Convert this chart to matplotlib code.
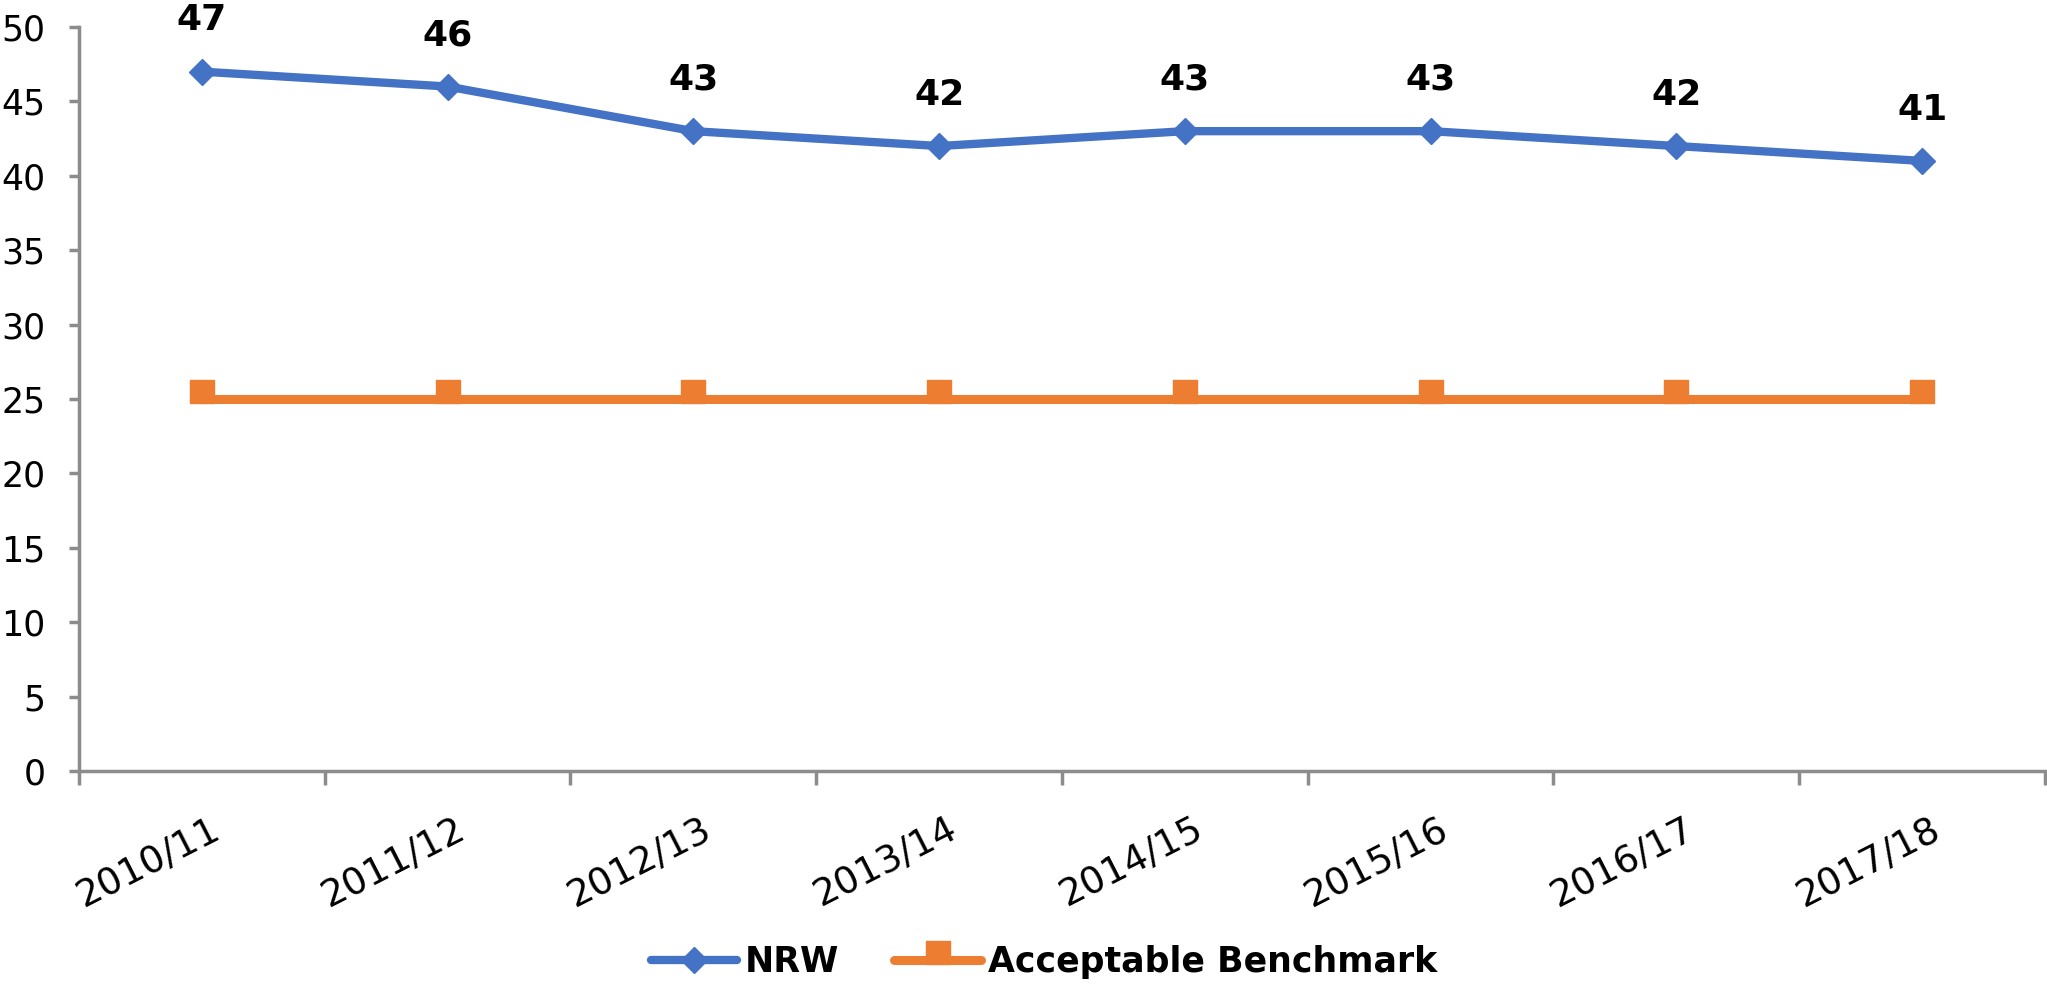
import numpy as np
import matplotlib
matplotlib.use('Agg')
import matplotlib.pyplot as plt
from matplotlib.path import Path

years = ['2010/11', '2011/12', '2012/13', '2013/14', '2014/15', '2015/16', '2016/17', '2017/18']
nrw = [47, 46, 43, 42, 43, 43, 42, 41]
benchmark = [25, 25, 25, 25, 25, 25, 25, 25]

blue = '#4472C4'
orange = '#ED7D31'
grey = '#8C8C8C'

# square marker sitting a bit above the line, like the original
sq = Path([(-12, -4.5), (12, -4.5), (12, 19.5), (-12, 19.5), (-12, -4.5)],
          [Path.MOVETO, Path.LINETO, Path.LINETO, Path.LINETO, Path.CLOSEPOLY])

fig = plt.figure(figsize=(20.47, 9.89), dpi=100)
ax = fig.add_axes([0.0386, 0.2204, 0.9604, 0.7523])

x = np.arange(len(years))
ax.plot(x, nrw, color=blue, lw=6, marker='D', ms=13, label='NRW', solid_capstyle='round')
ax.plot(x, benchmark, color=orange, lw=6.5, marker=sq, ms=28, label='Acceptable Benchmark',
        solid_capstyle='round')

for xi, v in zip(x, nrw):
    ax.annotate(str(v), (xi, v), xytext=(0, 37), textcoords='offset points',
                ha='center', va='center', fontsize=26, fontweight='bold')

ax.set_xlim(-0.5, 7.5)
ax.set_ylim(0, 50)
ax.set_yticks(range(0, 51, 5))
ax.set_xticks(np.arange(-0.5, 8, 1))
ax.set_xticklabels([])
ax.set_xticks(x + 0.03, minor=True)
ax.set_xticklabels(years, minor=True, rotation=27, ha='right', rotation_mode='anchor')
ax.tick_params(axis='x', which='minor', length=0, labelsize=27, pad=29)
ax.tick_params(axis='x', which='major', length=10, width=2.5, color=grey)
ax.tick_params(axis='y', length=7, width=2.5, color=grey, labelsize=25, pad=17)

for s in ['top', 'right']:
    ax.spines[s].set_visible(False)
for s in ['left', 'bottom']:
    ax.spines[s].set_color(grey)
    ax.spines[s].set_linewidth(2.5)

leg = fig.legend(loc='center', bbox_to_anchor=(0.51, 0.027), ncol=2, frameon=False,
                 prop={'size': 25, 'weight': 'bold'}, handlelength=2.5, columnspacing=1.6,
                 handletextpad=0.2, borderpad=0)

fig.savefig('out.png', dpi=100)
